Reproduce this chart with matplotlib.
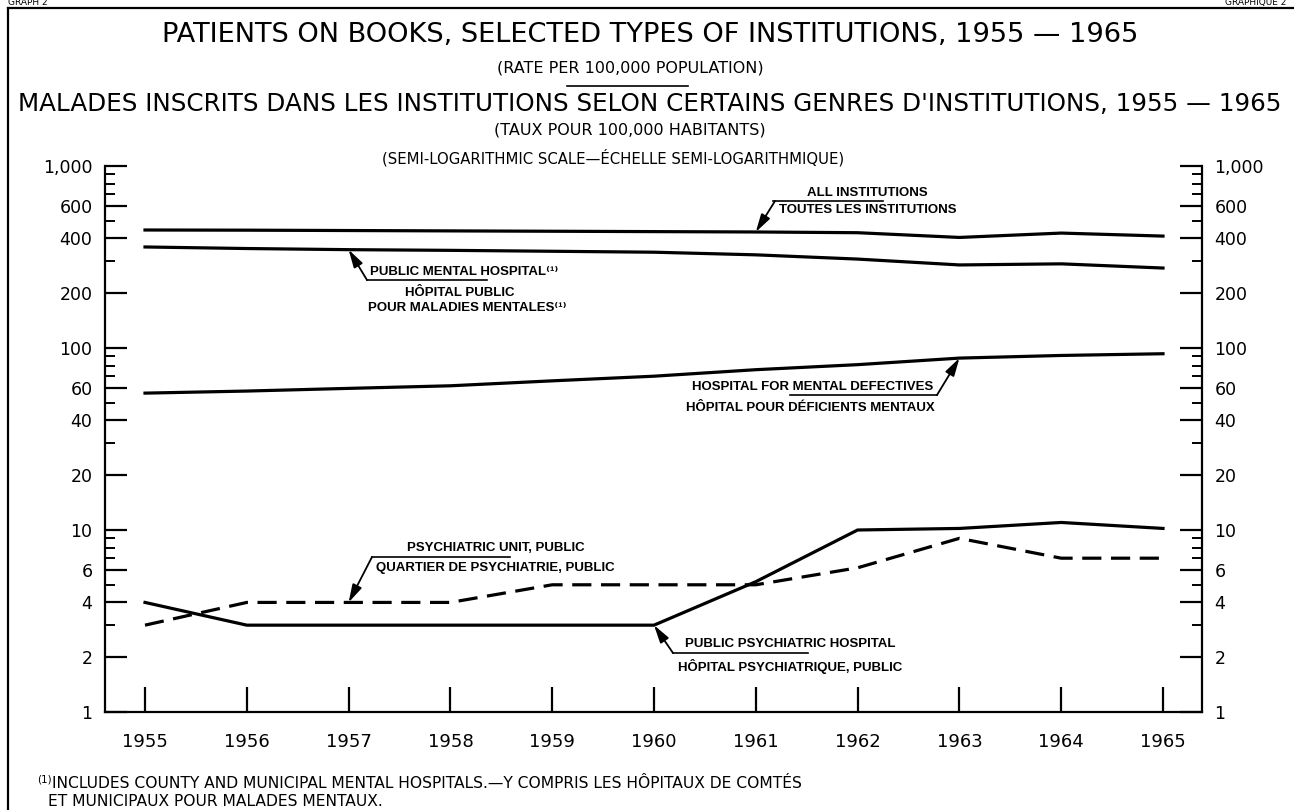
import matplotlib
matplotlib.use("Agg")
import matplotlib.pyplot as plt
from matplotlib.lines import Line2D
from matplotlib.ticker import NullFormatter

# data (rate per 100,000 population)
years = [1955, 1956, 1957, 1958, 1959, 1960, 1961, 1962, 1963, 1964, 1965]
all_institutions = [445, 444, 442, 440, 438, 436, 434, 430, 405, 428, 412]
public_mental_hospital = [359, 352, 347, 344, 340, 336, 325, 308, 286, 290, 275]
mental_defectives = [56.5, 58, 60, 62, 66, 70, 76, 81, 88, 91, 93]
public_psychiatric_hospital = [4, 3, 3, 3, 3, 3, 5.2, 10, 10.2, 11, 10.2]
psychiatric_unit = [3, 4, 4, 4, 5, 5, 5, 6.2, 9, 7, 7]

major_ticks = [1, 2, 4, 6, 10, 20, 40, 60, 100, 200, 400, 600, 1000]
major_labels = ["1", "2", "4", "6", "10", "20", "40", "60", "100", "200", "400", "600", "1,000"]
minor_ticks = [3, 5, 7, 8, 9, 30, 50, 70, 80, 90, 300, 500, 700, 800, 900]

W, H = 1294, 810
LABEL_FONT = ["Liberation Sans", "DejaVu Sans"]


def px(x, y):
    return (x / W, 1 - y / H)


fig = plt.figure(figsize=(W / 100, H / 100), dpi=100)
fig.patch.set_facecolor("white")

ax = fig.add_axes([105 / W, 1 - 712 / H, (1202 - 105) / W, (712 - 166) / H])
ax.set_yscale("log")
ax.set_ylim(1, 1000)
ax.set_xlim(1954.607, 1965.383)

lw = 2.3
ax.plot(years, all_institutions, color="black", lw=lw)
ax.plot(years, public_mental_hospital, color="black", lw=lw)
ax.plot(years, mental_defectives, color="black", lw=lw)
ax.plot(years, public_psychiatric_hospital, color="black", lw=lw)
ax.plot(years, psychiatric_unit, color="black", lw=lw, linestyle=(0, (6, 3)))

# axes styling
ax.spines["top"].set_visible(False)
for side in ["left", "right", "bottom"]:
    ax.spines[side].set_linewidth(1.6)

ax.set_yticks(major_ticks)
ax.set_yticklabels(major_labels)
ax.set_yticks(minor_ticks, minor=True)
ax.yaxis.set_minor_formatter(NullFormatter())
ax.tick_params(axis="y", which="major", direction="in", length=16, width=1.6,
               left=True, right=True, labelleft=True, labelright=True,
               labelsize=12.5, pad=9)
ax.tick_params(axis="y", which="minor", direction="in", length=7, width=1.4,
               left=True, right=True)

ax.set_xticks(years)
ax.set_xticklabels([str(y) for y in years])
ax.tick_params(axis="x", which="major", direction="in", length=18, width=1.6,
               labelsize=13, pad=15)
ax.tick_params(axis="x", which="minor", bottom=False)

# titles
fig.text(*px(650, 35), "PATIENTS ON BOOKS, SELECTED TYPES OF INSTITUTIONS, 1955 — 1965",
         ha="center", va="center", fontsize=19.6)
fig.text(*px(630, 68), "(RATE PER 100,000 POPULATION)", ha="center", va="center", fontsize=11.5)
fig.add_artist(Line2D([567 / W, 688 / W], [1 - 86 / H] * 2, transform=fig.transFigure,
                      color="black", lw=1.2))
fig.text(*px(650, 104),
         "MALADES INSCRITS DANS LES INSTITUTIONS SELON CERTAINS GENRES D'INSTITUTIONS, 1955 — 1965",
         ha="center", va="center", fontsize=17.7)
fig.text(*px(630, 130), "(TAUX POUR 100,000 HABITANTS)", ha="center", va="center", fontsize=11.5)
fig.text(*px(613, 158), "(SEMI-LOGARITHMIC SCALE—ÉCHELLE SEMI-LOGARITHMIQUE)",
         ha="center", va="center", fontsize=10.7)

# frame around the graph
fig.add_artist(Line2D([8 / W, 1.0], [1 - 8 / H] * 2, transform=fig.transFigure, color="black", lw=1.6))
fig.add_artist(Line2D([8 / W, 8 / W], [0.0, 1 - 8 / H], transform=fig.transFigure, color="black", lw=1.6))
fig.text(*px(8, 7), "GRAPH 2", ha="left", va="bottom", fontsize=6.5)
fig.text(*px(1286, 7), "GRAPHIQUE 2", ha="right", va="bottom", fontsize=6.5)

arrow = dict(arrowstyle="-|>,head_length=0.9,head_width=0.25", color="black", lw=1.3,
             shrinkA=0, shrinkB=0, mutation_scale=12)


def label(tip, start, under_x, lines):
    ax.annotate("", xy=tip, xycoords="data", xytext=px(*start),
                textcoords="figure fraction", arrowprops=arrow)
    fig.add_artist(Line2D([under_x[0] / W, under_x[1] / W], [1 - start[1] / H] * 2,
                          transform=fig.transFigure, color="black", lw=1.2))
    for text, x, y, ha in lines:
        fig.text(*px(x, y), text, ha=ha, va="center", fontsize=9.5,
                 family=LABEL_FONT, weight="bold")


label((1961, all_institutions[6]), (775, 201), (773, 883),
      [("ALL INSTITUTIONS", 867, 193, "center"),
       ("TOUTES LES INSTITUTIONS", 868, 210, "center")])
label((1957, public_mental_hospital[2]), (367, 280), (367, 487),
      [("PUBLIC MENTAL HOSPITAL\u207d\u00b9\u207e", 370, 272, "left"),
       ("HÔPITAL PUBLIC", 460, 293, "center"),
       ("POUR MALADIES MENTALES\u207d\u00b9\u207e", 368, 308, "left")])
label((1963, mental_defectives[8]), (937, 395), (790, 937),
      [("HOSPITAL FOR MENTAL DEFECTIVES", 933, 387, "right"),
       ("HÔPITAL POUR DÉFICIENTS MENTAUX", 935, 408, "right")])
label((1957, psychiatric_unit[2]), (372, 557), (372, 510),
      [("PSYCHIATRIC UNIT, PUBLIC", 496, 548, "center"),
       ("QUARTIER DE PSYCHIATRIE, PUBLIC", 495, 568, "center")])
label((1960, public_psychiatric_hospital[5]), (673, 653), (673, 808),
      [("PUBLIC PSYCHIATRIC HOSPITAL", 790, 644, "center"),
       ("HÔPITAL PSYCHIATRIQUE, PUBLIC", 790, 666, "center")])

# footnote
fig.text(*px(37, 779), "(1)", ha="left", va="center", fontsize=7.5)
fig.text(*px(52, 784), "INCLUDES COUNTY AND MUNICIPAL MENTAL HOSPITALS.—Y COMPRIS LES HÔPITAUX DE COMTÉS",
         ha="left", va="center", fontsize=11.2)
fig.text(*px(48, 801), "ET MUNICIPAUX POUR MALADES MENTAUX.", ha="left", va="center", fontsize=11.2)

fig.savefig("out.png", dpi=100, facecolor="white")
